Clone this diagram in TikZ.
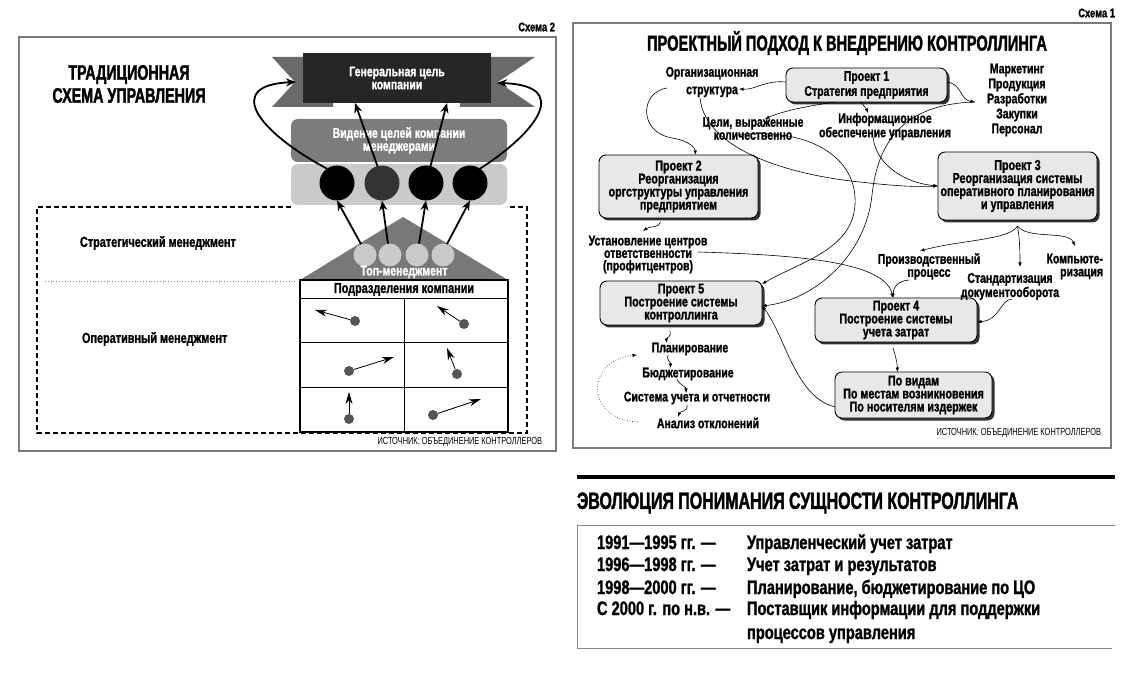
\documentclass[tikz,border=0pt]{standalone}
\usepackage{fontspec}
\setmainfont{Liberation Sans}[FakeStretch=0.72]
\newfontfamily\bsans{Liberation Sans Bold}[FakeStretch=0.75,FakeBold=1.2]
\newfontfamily\tsans{Liberation Sans Bold}[FakeStretch=0.68,FakeBold=1.6]
\usetikzlibrary{arrows.meta,shadows,calc}
\definecolor{framegray}{HTML}{7A7A7A}
\definecolor{tailgray}{HTML}{6A6A6A}
\definecolor{bannerdark}{HTML}{262626}
\definecolor{visgray}{HTML}{7C7C7C}
\definecolor{lightgrayB}{HTML}{CACACA}
\definecolor{roofgray}{HTML}{787878}
\definecolor{dotgray}{HTML}{555555}
\definecolor{boxfill}{HTML}{E8E8E8}
\definecolor{linegray}{HTML}{8A8A8A}
\tikzset{
  every node/.style={inner sep=0pt, outer sep=0pt},
  bigarrow/.style={line width=1.8pt, -{Stealth[length=10pt,width=8pt]}},
  cellarrow/.style={line width=0.8pt, -{Stealth[length=12pt,width=7pt]}},
  conn/.style={line width=0.6pt, -{Latex[length=4.5pt,width=3.5pt]}},
  lbl/.style={font=\bsans\fontsize{14}{13}\selectfont, align=center},
  llbl/.style={font=\bsans\fontsize{14.5}{14}\selectfont},
  wlbl/.style={font=\bsans\fontsize{14}{13}\selectfont, align=center, text=white},
  pbox/.style={draw, line width=0.9pt, rounded corners=7pt, fill=boxfill,
    drop shadow={shadow xshift=2.5pt, shadow yshift=-2.5pt, fill=black!80, opacity=1},
    align=center, font=\bsans\fontsize{14.3}{13}\selectfont},
  src/.style={font=\fontsize{10.3}{11}\selectfont},
  ttl/.style={font=\tsans\fontsize{21}{23}\selectfont, align=center},
  schema/.style={font=\bsans\fontsize{12.5}{13}\selectfont},
  tab/.style={font=\bsans\fontsize{19.5}{22}\selectfont, anchor=base west},
  lcirc/.style={circle, fill=lightgrayB, minimum size=23pt},
  bcirc/.style={circle, fill=black, minimum size=35pt},
  dot/.style={circle, fill=dotgray, minimum size=10pt},
}
\begin{document}
\begin{tikzpicture}[x=1pt,y=-1pt]
\useasboundingbox (0,0) rectangle (1125,676);
\fill[white] (0,0) rectangle (1125,676);

% ================= LEFT PANEL =================
\draw[framegray, line width=1.2pt] (19,37) rectangle (556,451);
\node[schema, anchor=east] (sch2) at (555,27) {Схема 2};
\node[ttl] (ltitle) at (129,84) {ТРАДИЦИОННАЯ\\СХЕМА УПРАВЛЕНИЯ};

\draw[line width=1.5pt, dash pattern=on 5pt off 3pt] (291,207) -- (37,207) -- (37,433) -- (527,433) -- (527,207) -- (507,207);
\draw[gray, dotted, line width=0.8pt] (45,281) -- (295,281);
\node[llbl, anchor=west] (strat) at (80,243) {Стратегический менеджмент};
\node[llbl, anchor=west] (oper) at (82,339) {Оперативный менеджмент};

% banner
\fill[tailgray] (272,57) -- (333,57) -- (333,107) -- (272,107) -- (295,82) -- cycle;
\fill[tailgray] (535,57) -- (460,57) -- (460,107) -- (535,107) -- (498,82) -- cycle;
\node[wlbl, fill=bannerdark, minimum width=188pt, minimum height=50pt] (goal) at (397,78) {Генеральная цель\\компании};
\coordinate (lnotch) at (296,82);
\coordinate (rnotch) at (497,83);

\node[wlbl, fill=visgray, rounded corners=7pt, minimum width=216pt, minimum height=43pt] (vision) at (399,140.5) {Видение целей компании\\менеджерами};
\node[fill=lightgrayB, rounded corners=7pt, minimum width=216pt, minimum height=41pt] (mgrs) at (399,184.5) {};

\node[bcirc] (c1) at (337,183) {};
\node[bcirc, fill=black!80] (c2) at (382,183) {};
\node[bcirc] (c3) at (426,183) {};
\node[bcirc] (c4) at (470,183) {};

\draw[bigarrow] (c1.125) .. controls (255,130) and (225,85) .. (lnotch);
\draw[bigarrow] (c4.55) .. controls (540,130) and (570,85) .. (rnotch);
\draw[bigarrow] (c2.105) -- ([xshift=-42pt]goal.south);
\draw[bigarrow] (c3.75) -- ([xshift=50pt]goal.south);

% roof
\fill[roofgray] (403,217) -- (508,280) -- (300,280) -- cycle;
\node[lcirc] (l1) at (365,255) {};
\node[lcirc] (l2) at (390,255) {};
\node[lcirc] (l3) at (417,255) {};
\node[lcirc] (l4) at (443,255) {};
\node[wlbl] (topm) at (404,272) {Топ-менеджмент};
\draw[bigarrow] (l1.110) -- (c1.south);
\draw[bigarrow] (l2.100) -- (c2.south);
\draw[bigarrow] (l3.80) -- (c3.south);
\draw[bigarrow] (l4.70) -- (c4.south);

% table
\draw[line width=1.2pt, fill=white] (300,280) rectangle (508,432);
\draw[line width=1pt] (300,299) -- (508,299) (300,343) -- (508,343) (300,388) -- (508,388) (404,299) -- (404,432);
\node[llbl] (units) at (404,289.5) {Подразделения компании};

\coordinate (t1) at (315,310);
\coordinate (t2) at (437,306);
\coordinate (t3) at (394,357);
\coordinate (t4) at (447,348);
\coordinate (t5) at (349,392);
\coordinate (t6) at (481,399);
\node[dot] (d1) at (355,321) {};
\node[dot] (d2) at (464,324) {};
\node[dot] (d3) at (349,371) {};
\node[dot] (d4) at (457,374) {};
\node[dot] (d5) at (349,419) {};
\node[dot] (d6) at (433,415) {};
\draw[cellarrow] (d1) -- (t1);
\draw[cellarrow] (d2) -- (t2);
\draw[cellarrow] (d3) -- (t3);
\draw[cellarrow] (d4) -- (t4);
\draw[cellarrow] (d5) -- (t5);
\draw[cellarrow] (d6) -- (t6);

\node[src, anchor=east] (srcl) at (542,442) {ИСТОЧНИК: ОБЪЕДИНЕНИЕ КОНТРОЛЛЕРОВ};

% ================= RIGHT PANEL =================
\draw[framegray, line width=1.2pt] (573,23) rectangle (1111,448);
\node[schema, anchor=east] (sch1) at (1115,13) {Схема 1};
\node[ttl, font=\tsans\fontsize{21.5}{23}\selectfont] (rtitle) at (847,43) {ПРОЕКТНЫЙ ПОДХОД К ВНЕДРЕНИЮ КОНТРОЛЛИНГА};

\node[pbox, minimum width=161pt, minimum height=34pt, font=\bsans\fontsize{14}{15}\selectfont] (p1) at (866.5,85) {Проект 1\\Стратегия предприятия};
\node[pbox, minimum width=159pt, minimum height=63pt] (p2) at (678.5,186.5) {Проект 2\\Реорганизация\\оргструктуры управления\\предприятием};
\node[pbox, minimum width=159pt, minimum height=68pt] (p3) at (1017.5,186) {Проект 3\\Реорганизация системы\\оперативного планирования\\и управления};
\node[pbox, minimum width=162pt, minimum height=44pt] (p5) at (681,303) {Проект 5\\Построение системы\\контроллинга};
\node[pbox, minimum width=162pt, minimum height=44pt] (p4) at (896,320) {Проект 4\\Построение системы\\учета затрат};
\node[pbox, minimum width=157pt, minimum height=46pt] (pv) at (913.5,395) {По видам\\По местам возникновения\\По носителям издержек};

\node[lbl, font=\bsans\fontsize{14}{17.5}\selectfont] (org) at (712,82) {Организационная\\структура};
\node[lbl] (goals) at (753,128.5) {Цели, выраженные\\количественно};
\node[lbl] (info) at (885,126.5) {Информационное\\обеспечение управления};
\node[lbl, font=\bsans\fontsize{14}{15}\selectfont] (mkt) at (1017,100) {Маркетинг\\Продукция\\Разработки\\Закупки\\Персонал};
\node[lbl, font=\bsans\fontsize{14}{12.5}\selectfont] (resp) at (648,254.5) {Установление центров\\ответственности\\(профитцентров)};
\node[lbl] (prod) at (929,266.5) {Производственный\\процесс};
\node[lbl] (std) at (1010,286.5) {Стандартизация\\документооборота};
\node[lbl, align=right, anchor=east] (comp) at (1103,266.5) {Компьюте-\\ризация};
\node[lbl] (plan) at (690,349) {Планирование};
\node[lbl] (budg) at (688,374) {Бюджетирование};
\node[lbl] (acct) at (697,398) {Система учета и отчетности};
\node[lbl] (anal) at (708,423) {Анализ отклонений};

\coordinate (strR) at (739,89);
\coordinate (orgL) at (667,88);
\coordinate (strB) at (700,98);
\coordinate (goalT) at (765,119);
\coordinate (goalR) at (738,135);
\coordinate (infoT) at (868,113);
\coordinate (infoB) at (873,137);
\coordinate (mktL) at (975,102);
\coordinate (respT) at (643,231);
\coordinate (respR) at (698,252);
\coordinate (prodT) at (920,251);
\coordinate (prodB) at (909,280);
\coordinate (stdT) at (1020,267);
\coordinate (compT) at (1075,246);
\coordinate (stdB) at (1012,299);
\coordinate (planT) at (667,343);
\coordinate (planB) at (668,355);
\coordinate (budgT) at (670,368);
\coordinate (budgB) at (677,379);
\coordinate (acctT) at (686,393);
\coordinate (acctB) at (687,405);
\coordinate (analT) at (678,417);
\coordinate (analL) at (638,422);
\coordinate (planL) at (637,355);

\draw[conn] ([yshift=3pt]p1.west) .. controls (765,80) and (755,90) .. (strR);
\draw[conn] (orgL) .. controls (640,92) and (638,132) .. (672,138) .. controls (690,141) and (695,148) .. ([xshift=17pt]p2.north);
\draw[conn] (strB) .. controls (705,150) and (790,175) .. (860,182) .. controls (895,186) and (915,187) .. (p3.west);
\draw[conn] ([xshift=-32pt]p1.south) .. controls (810,106) and (785,110) .. (goalT);
\draw[conn] ([xshift=-6pt]p1.south) .. controls (864,106) and (866,108) .. (infoT);
\draw[conn] ([yshift=3pt]p1.east) .. controls (962,84) and (960,100) .. (mktL);
\draw[conn] (goalR) .. controls (805,127) and (858,155) .. (855,205) .. controls (852,250) and (800,262) .. ([yshift=-3pt]p5.north east);
\draw[conn] (infoB) .. controls (876,165) and (905,183) .. (p3.west);
\draw[conn] (mktL) .. controls (905,104) and (878,140) .. (872,195) .. controls (866,255) and (815,300) .. ([yshift=-3pt]p5.east);
\draw[conn] ([xshift=-18pt,yshift=-4pt]p2.south) .. controls (659,228) and (650,226) .. (respT);
\draw[conn] (respR) .. controls (800,255) and (885,262) .. ([xshift=-3pt]p4.north);
\draw[conn] (prodB) .. controls (898,281) and (893,287) .. ([xshift=-3pt]p4.north);
\draw[conn] ([yshift=-6pt]p3.south) .. controls (1010,240) and (960,240) .. (prodT);
\draw[conn] ([yshift=-6pt]p3.south) .. controls (1020,240) and (1020,255) .. (stdT);
\draw[conn] ([yshift=-6pt]p3.south) .. controls (1028,240) and (1068,230) .. (compT);
\draw[conn] (stdB) .. controls (1000,300) and (1000,320) .. ([yshift=-2pt]p4.east);
\draw[conn] ([xshift=-3pt,yshift=-6pt]p4.south) .. controls (895,355) and (897,360) .. ([xshift=-16pt]pv.north);
\draw[conn] ([yshift=-12pt]pv.west) .. controls (795,397) and (785,335) .. ([yshift=-3pt]p5.east);
\draw[conn] ([xshift=-11pt,yshift=-6pt]p5.south) .. controls (672,337) and (666,338) .. (planT);
\draw[conn] (planB) .. controls (666,360) and (671,362) .. (budgT);
\draw[conn] (budgB) .. controls (680,386) and (686,386) .. (acctT);
\draw[conn] (acctB) .. controls (688,412) and (680,411) .. (analT);
\draw[conn, dotted] (analL) .. controls (585,420) and (585,360) .. (planL);

\node[src, anchor=east] (srcr) at (1101,433) {ИСТОЧНИК: ОБЪЕДИНЕНИЕ КОНТРОЛЛЕРОВ};

% ================= BOTTOM =================
\draw[line width=3.5pt] (577,477) -- (1115,477);
\node[ttl, anchor=west, font=\tsans\fontsize{23.5}{24}\selectfont] (btitle) at (577,503) {ЭВОЛЮЦИЯ ПОНИМАНИЯ СУЩНОСТИ КОНТРОЛЛИНГА};
\draw[linegray, line width=1pt] (1115,525) -- (577,525) -- (577,648) -- (1112,648);
\node[tab] (y1) at (597,549) {1991—1995 гг. —};
\node[tab] (y2) at (597,571) {1996—1998 гг. —};
\node[tab] (y3) at (597,594) {1998—2000 гг. —};
\node[tab] (y4) at (597,615) {С 2000 г. по н.в. —};
\node[tab] (e1) at (747,549) {Управленческий учет затрат};
\node[tab] (e2) at (747,571) {Учет затрат и результатов};
\node[tab] (e3) at (747,594) {Планирование, бюджетирование по ЦО};
\node[tab] (e4) at (747,615) {Поставщик информации для поддержки};
\node[tab] (e5) at (747,639) {процессов управления};
\end{tikzpicture}
\end{document}
